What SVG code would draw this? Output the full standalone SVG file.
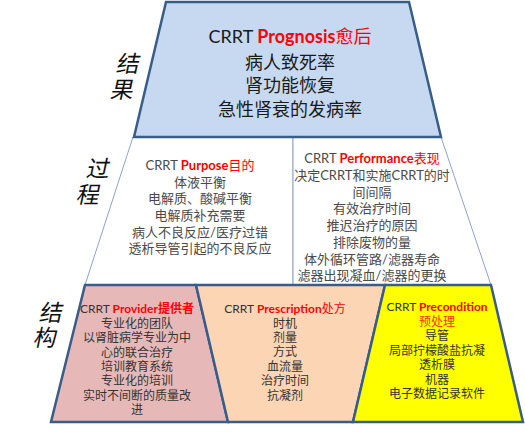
<svg xmlns="http://www.w3.org/2000/svg" width="525" height="433" viewBox="0 0 525 433">
<style>
text{font-family:Lato,"Noto Sans CJK SC",sans-serif;text-anchor:middle}
.shape{stroke:#385D8A;stroke-width:2.5;stroke-linejoin:miter}
.thin{fill:#FFFFFF;stroke:#8FA3C6;stroke-width:1}
.top{font-size:18px;fill:#1A1A1A}
.mid{font-size:13px;fill:#4A4A4A}
.bot{font-size:12px;fill:#333333}
.red{fill:#FF0000;font-weight:bold}
.redn{fill:#FF0000}
.side{font-family:"Noto Sans CJK SC",sans-serif;font-size:23px;fill:#111111;dominant-baseline:central}
</style>
<rect width="525" height="433" fill="#FFFFFF"/>

<g id="middle-left">
<polygon class="thin" points="133,137 293,137 293,285 85,285"/>
<text class="mid" x="200" y="170">CRRT <tspan class="red">Purpose</tspan><tspan class="redn">目的</tspan></text>
<text class="mid" x="200" y="187">体液平衡</text>
<text class="mid" x="200" y="203">电解质、酸碱平衡</text>
<text class="mid" x="200" y="220">电解质补充需要</text>
<text class="mid" x="200" y="237">病人不良反应/医疗过错</text>
<text class="mid" x="200" y="253">透析导管引起的不良反应</text>
</g>

<g id="middle-right">
<polygon class="thin" points="293,137 441,137 491,285 293,285"/>
<text class="mid" x="372" y="163">CRRT <tspan class="red">Performance</tspan><tspan class="redn">表现</tspan></text>
<text class="mid" x="372" y="180">决定CRRT和实施CRRT的时</text>
<text class="mid" x="372" y="197">间间隔</text>
<text class="mid" x="372" y="213">有效治疗时间</text>
<text class="mid" x="372" y="230">推迟治疗的原因</text>
<text class="mid" x="372" y="247">排除废物的量</text>
<text class="mid" x="372" y="264">体外循环管路/滤器寿命</text>
<text class="mid" x="372" y="280">滤器出现凝血/滤器的更换</text>
</g>

<g id="prognosis">
<polygon class="shape" fill="#C6D9F1" points="166,2 409,2 441,137 134,137"/>
<text class="top" x="290" y="43">CRRT <tspan class="red">Prognosis</tspan><tspan class="redn">愈后</tspan></text>
<text class="top" x="290" y="69">病人致死率</text>
<text class="top" x="290" y="92">肾功能恢复</text>
<text class="top" x="290" y="116">急性肾衰的发病率</text>
</g>

<g id="provider">
<polygon class="shape" fill="#E6B9B8" points="85,285 196,285 228,422 51,422"/>
<text class="bot" x="137" y="313">CRRT <tspan class="red">Provider</tspan><tspan class="redn" font-weight="bold">提供者</tspan></text>
<text class="bot" x="137" y="328">专业化的团队</text>
<text class="bot" x="137" y="342">以肾脏病学专业为中</text>
<text class="bot" x="137" y="357">心的联合治疗</text>
<text class="bot" x="137" y="371">培训教育系统</text>
<text class="bot" x="137" y="385">专业化的培训</text>
<text class="bot" x="137" y="400">实时不间断的质量改</text>
<text class="bot" x="137" y="414">进</text>
</g>

<g id="prescription">
<polygon class="shape" fill="#FCD5B5" points="196,285 385,285 353,422 228,422"/>
<text class="bot" x="285" y="313">CRRT <tspan class="red">Prescription</tspan><tspan class="redn">处方</tspan></text>
<text class="bot" x="285" y="328">时机</text>
<text class="bot" x="285" y="342">剂量</text>
<text class="bot" x="285" y="356">方式</text>
<text class="bot" x="285" y="371">血流量</text>
<text class="bot" x="285" y="385">治疗时间</text>
<text class="bot" x="285" y="400">抗凝剂</text>
</g>

<g id="precondition">
<polygon class="shape" fill="#FFFF00" points="385,285 491,285 523,422 353,422"/>
<text class="bot" x="437" y="311">CRRT <tspan class="red">Precondition</tspan></text>
<text class="bot" x="437" y="325.5" style="fill:#FF3300">预处理</text>
<text class="bot" x="437" y="340">导管</text>
<text class="bot" x="437" y="354.5">局部拧檬酸盐抗凝</text>
<text class="bot" x="437" y="369">透析膜</text>
<text class="bot" x="437" y="383.5">机器</text>
<text class="bot" x="437" y="398">电子数据记录软件</text>
</g>

<g id="labels">
<text class="side" transform="translate(129,62) skewX(-12)">结</text>
<text class="side" transform="translate(123,88) skewX(-12)">果</text>
<text class="side" transform="translate(99,167) skewX(-12)">过</text>
<text class="side" transform="translate(89,193) skewX(-12)">程</text>
<text class="side" transform="translate(52,311) skewX(-12)">结</text>
<text class="side" transform="translate(46,336) skewX(-12)">构</text>
</g>

<g id="connectors"></g>
</svg>
